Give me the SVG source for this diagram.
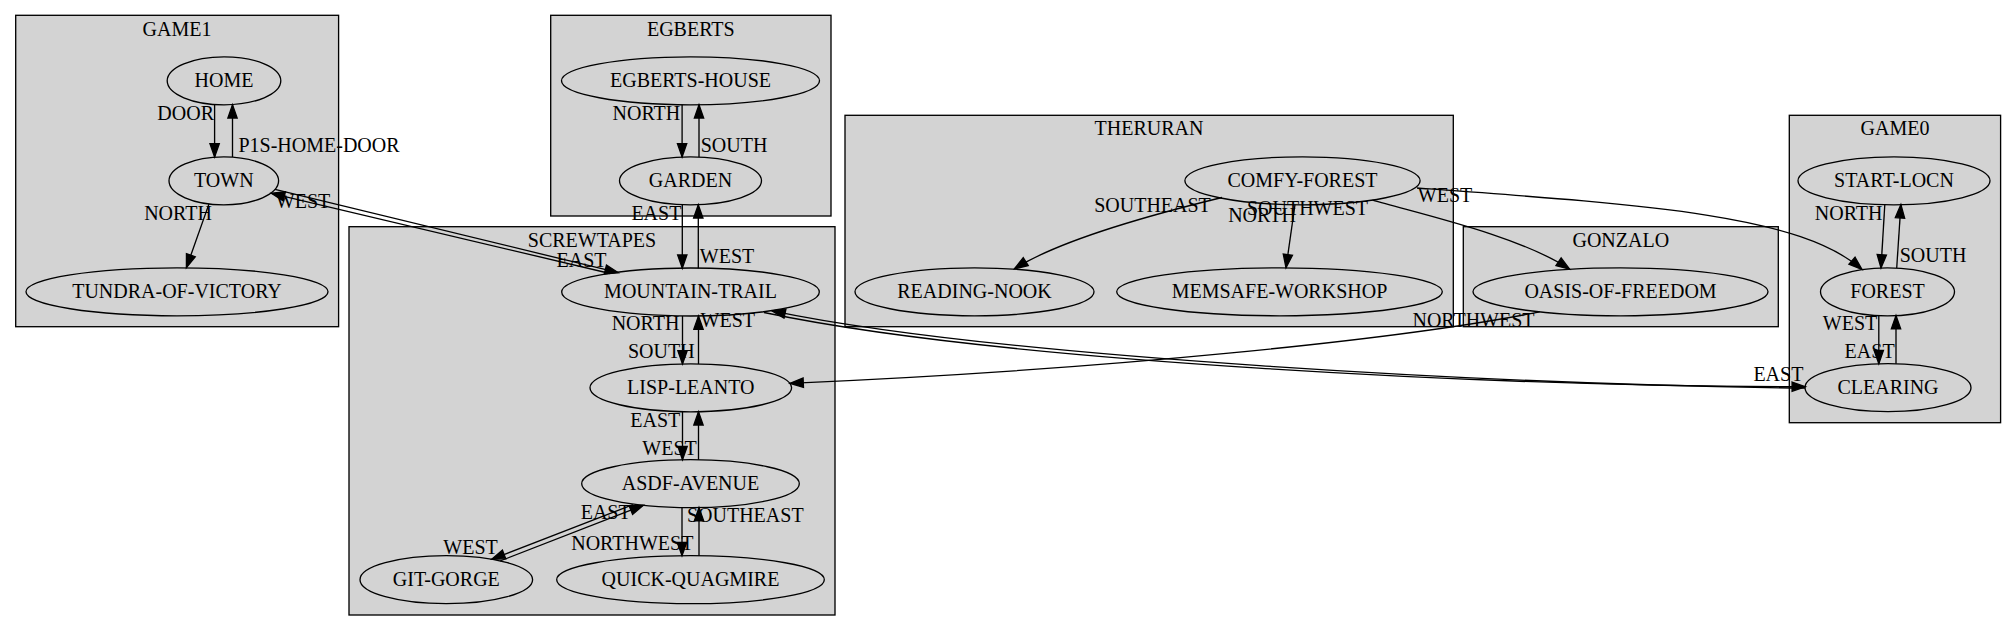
<svg xmlns="http://www.w3.org/2000/svg" width="2016" height="631" viewBox="0 0 2016 631">
<style>
.cl{fill:#d3d3d3;stroke:#000;stroke-width:1.33}
.nd{fill:none;stroke:#000;stroke-width:1.33}
.e{fill:none;stroke:#000;stroke-width:1.33;marker-end:url(#ah)}
text{font-family:"Liberation Serif","Times New Roman",serif;font-size:20px;fill:#000;text-anchor:middle}
</style>
<defs>
<marker id="ah" markerUnits="userSpaceOnUse" markerWidth="16" markerHeight="12" refX="13.3" refY="4.67" orient="auto" overflow="visible">
<path d="M0,0 L13.3,4.67 L0,9.33 Z" fill="#000" stroke="#000" stroke-width="1.33"/>
</marker>
</defs>
<rect width="2016" height="631" fill="#fff"/>
<g id="clusters">
<g id="cluster_game1"><rect class="cl" x="15.7" y="15.3" width="322.9" height="311.4"/><text x="177" y="35.6">GAME1</text></g>
<g id="cluster_egberts"><rect class="cl" x="550.7" y="15.3" width="280.3" height="200.7"/><text x="690.8" y="35.6">EGBERTS</text></g>
<g id="cluster_screwtapes"><rect class="cl" x="349" y="226.7" width="486" height="388.3"/><text x="592" y="246.7">SCREWTAPES</text></g>
<g id="cluster_theruran"><rect class="cl" x="845" y="115.3" width="608.3" height="211.4"/><text x="1149" y="135">THERURAN</text></g>
<g id="cluster_gonzalo"><rect class="cl" x="1463.3" y="226.7" width="315" height="100"/><text x="1620.8" y="246.7">GONZALO</text></g>
<g id="cluster_game0"><rect class="cl" x="1789.3" y="115.3" width="211.3" height="307.4"/><text x="1895" y="135">GAME0</text></g>
</g>
<g id="nodes">
<g id="HOME"><ellipse class="nd" cx="224" cy="80.8" rx="56.8" ry="24"/><text x="224" y="86.6">HOME</text></g>
<g id="TOWN"><ellipse class="nd" cx="223.8" cy="180.8" rx="54.8" ry="24"/><text x="223.8" y="186.6">TOWN</text></g>
<g id="TUNDRA-OF-VICTORY"><ellipse class="nd" cx="177" cy="291.8" rx="151" ry="24"/><text x="177" y="297.6">TUNDRA-OF-VICTORY</text></g>
<g id="EGBERTS-HOUSE"><ellipse class="nd" cx="690.5" cy="80.8" rx="129" ry="24"/><text x="690.5" y="86.6">EGBERTS-HOUSE</text></g>
<g id="GARDEN"><ellipse class="nd" cx="690.5" cy="180.8" rx="71" ry="24"/><text x="690.5" y="186.6">GARDEN</text></g>
<g id="MOUNTAIN-TRAIL"><ellipse class="nd" cx="690.5" cy="292" rx="128.8" ry="24"/><text x="690.5" y="297.8">MOUNTAIN-TRAIL</text></g>
<g id="LISP-LEANTO"><ellipse class="nd" cx="690.8" cy="387.8" rx="100.8" ry="24"/><text x="690.8" y="393.6">LISP-LEANTO</text></g>
<g id="ASDF-AVENUE"><ellipse class="nd" cx="690.5" cy="483.7" rx="108.8" ry="24"/><text x="690.5" y="489.5">ASDF-AVENUE</text></g>
<g id="GIT-GORGE"><ellipse class="nd" cx="446.3" cy="579.7" rx="86.3" ry="24"/><text x="446.3" y="585.5">GIT-GORGE</text></g>
<g id="QUICK-QUAGMIRE"><ellipse class="nd" cx="690.5" cy="579.7" rx="133.8" ry="24"/><text x="690.5" y="585.5">QUICK-QUAGMIRE</text></g>
<g id="COMFY-FOREST"><ellipse class="nd" cx="1302.5" cy="180.8" rx="117.6" ry="24"/><text x="1302.5" y="186.6">COMFY-FOREST</text></g>
<g id="READING-NOOK"><ellipse class="nd" cx="974.5" cy="291.8" rx="119.5" ry="24"/><text x="974.5" y="297.6">READING-NOOK</text></g>
<g id="MEMSAFE-WORKSHOP"><ellipse class="nd" cx="1279.5" cy="291.8" rx="162.8" ry="24"/><text x="1279.5" y="297.6">MEMSAFE-WORKSHOP</text></g>
<g id="OASIS-OF-FREEDOM"><ellipse class="nd" cx="1620.5" cy="291.8" rx="147.5" ry="24"/><text x="1620.5" y="297.6">OASIS-OF-FREEDOM</text></g>
<g id="START-LOCN"><ellipse class="nd" cx="1894" cy="180.8" rx="96" ry="24"/><text x="1894" y="186.6">START-LOCN</text></g>
<g id="FOREST"><ellipse class="nd" cx="1887.5" cy="291.8" rx="67" ry="24"/><text x="1887.5" y="297.6">FOREST</text></g>
<g id="CLEARING"><ellipse class="nd" cx="1888" cy="387.7" rx="83" ry="24"/><text x="1888" y="393.5">CLEARING</text></g>
</g>
<g id="edges">
<path class="e" d="M214.6,104.6 L214.6,157"/>
<path class="e" d="M232.5,157 L232.5,104.8"/>
<path class="e" d="M209,203.9 L186.4,267.7"/>
<path class="e" d="M275,189.4 L618.3,272.7"/>
<path class="e" d="M610,273.5 L271.4,193.3"/>
<path class="e" d="M682.1,104.8 L682.1,156.9"/>
<path class="e" d="M699,156.9 L699,104.8"/>
<path class="e" d="M682.3,204.7 L682.3,268.2"/>
<path class="e" d="M698.3,268.2 L698.3,204.7"/>
<path class="e" d="M682.5,316 L682.5,364"/>
<path class="e" d="M698.5,364 L698.5,316"/>
<path class="e" d="M682.5,411.7 L682.5,459.8"/>
<path class="e" d="M698.5,459.8 L698.5,411.7"/>
<path class="e" d="M682,507.6 L682,555.8"/>
<path class="e" d="M699,555.8 L699,507.6"/>
<path class="e" d="M633,504.6 L491.7,559.3"/>
<path class="e" d="M500,561 L643.3,505.3"/>
<path class="e" d="M764,312.5 C1000,362 1500,386.5 1805.4,386.7"/>
<path class="e" d="M1805,388.2 C1500,384 1000,358 772,310.8"/>
<path class="e" d="M1539.7,311.8 C1400,340 1100,370 790,383.3"/>
<path class="e" d="M1222,197.5 C1150,215 1060,240 1014.5,268.8"/>
<path class="e" d="M1295,204.5 L1286,267.8"/>
<path class="e" d="M1372.5,200.1 C1420,214 1520,236 1569.6,269.2"/>
<path class="e" d="M1417,188 C1650,205 1800,215 1862,269.5"/>
<path class="e" d="M1884.8,204.6 L1881,268"/>
<path class="e" d="M1896.7,268 L1900.9,204.6"/>
<path class="e" d="M1878.8,315.6 L1878.8,363.7"/>
<path class="e" d="M1896,363.7 L1896,315.6"/>
</g>
<g id="edge-labels">
<text x="185.7" y="120">DOOR</text>
<text x="319" y="151.7">P1S-HOME-DOOR</text>
<text x="178" y="220">NORTH</text>
<text x="303" y="208">WEST</text>
<text x="646.4" y="120">NORTH</text>
<text x="734" y="152">SOUTH</text>
<text x="656.4" y="220">EAST</text>
<text x="727" y="263">WEST</text>
<text x="581.5" y="267.3">EAST</text>
<text x="645.5" y="330">NORTH</text>
<text x="727.8" y="327.3">WEST</text>
<text x="661.3" y="357.7">SOUTH</text>
<text x="655.3" y="426.7">EAST</text>
<text x="669.5" y="455">WEST</text>
<text x="605.7" y="519">EAST</text>
<text x="745.3" y="521.7">SOUTHEAST</text>
<text x="632.3" y="550">NORTHWEST</text>
<text x="470.5" y="554.3">WEST</text>
<text x="1152.5" y="211.7">SOUTHEAST</text>
<text x="1262" y="221.7">NORTH</text>
<text x="1307.5" y="215">SOUTHWEST</text>
<text x="1445" y="202">WEST</text>
<text x="1473.5" y="326.5">NORTHWEST</text>
<text x="1848.6" y="220">NORTH</text>
<text x="1933" y="261.7">SOUTH</text>
<text x="1850" y="330">WEST</text>
<text x="1869.6" y="358.3">EAST</text>
<text x="1778.4" y="380.5">EAST</text>
</g>
</svg>
